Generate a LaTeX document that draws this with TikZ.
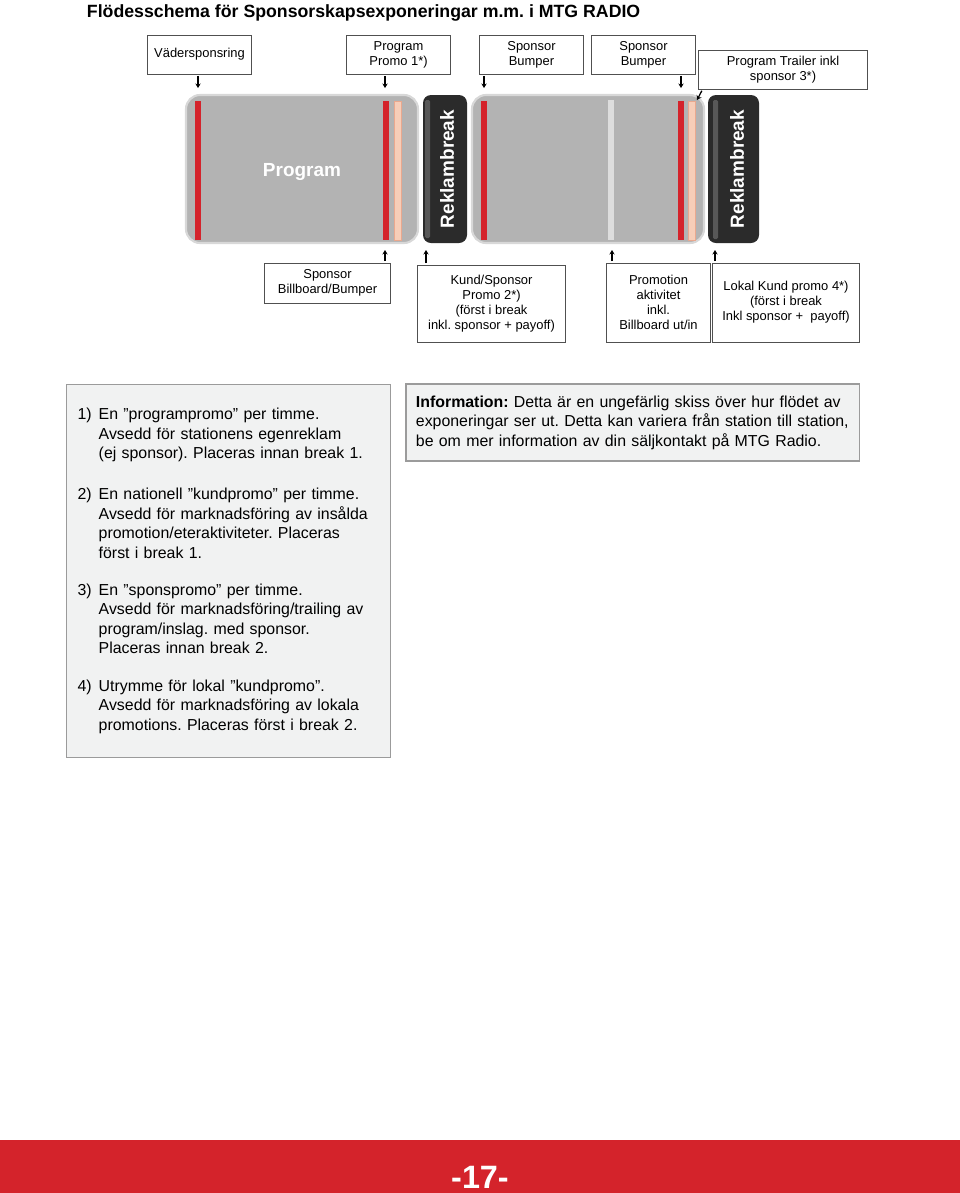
\documentclass[tikz,border=0pt]{standalone}
\usepackage{fontspec}
\setmainfont{Liberation Sans}
\usetikzlibrary{arrows.meta}
\frenchspacing
\definecolor{mtgred}{HTML}{D4232B}
\definecolor{progfill}{HTML}{B3B3B3}
\definecolor{progedge}{HTML}{D8D8D8}
\definecolor{breakfill}{HTML}{2B2B2B}
\definecolor{breakline}{HTML}{585858}
\definecolor{pinkfill}{HTML}{F6CDB8}
\definecolor{pinkedge}{HTML}{E9A88E}
\definecolor{lightbar}{HTML}{DDDDDD}
\definecolor{boxedge}{HTML}{505050}
\definecolor{notefill}{HTML}{F1F2F2}
\definecolor{noteedge}{HTML}{9B9B9B}
\newcommand{\boxfont}{\fontsize{9.2}{10.7}\selectfont}
\newcommand{\notefont}{\fontsize{11.3}{13.9}\selectfont\hyphenpenalty=10000}
\begin{document}
\begin{tikzpicture}[x=0.025cm,y=-0.025cm,
    infobox/.style={draw=boxedge,fill=white,line width=0.7pt,align=center,font=\boxfont,inner sep=1pt},
    notebox/.style={draw=noteedge,fill=notefill,line width=0.8pt,align=left,font=\notefont,inner xsep=0.275cm},
    prog/.style={fill=progfill,draw=progedge,line width=1.5pt,rounded corners=0.35cm},
    reklam/.style={fill=breakfill,rounded corners=0.2cm},
    blocktext/.style={text=white,font=\bfseries\fontsize{13.5}{16}\selectfont},
    pil/.style={-{Stealth[length=3.2pt,width=3.8pt]},line width=0.9pt,shorten <=1pt}]
    \useasboundingbox (0,0) rectangle (960,1193);
    \node[anchor=base west,font=\bfseries\fontsize{12.6}{15}\selectfont] (titel) at (82,17) {Flödesschema för Sponsorskapsexponeringar m.m. i MTG RADIO};

    \node[infobox,minimum width=2.575cm,minimum height=0.975cm] (vader) at (199.5,54.5) {Vädersponsring};
    \node[infobox,minimum width=2.575cm,minimum height=0.975cm] (promo1) at (398.5,54.5) {Program\\Promo 1*)};
    \node[infobox,minimum width=2.575cm,minimum height=0.975cm] (bump1) at (531.5,54.5) {Sponsor\\Bumper};
    \node[infobox,minimum width=2.575cm,minimum height=0.975cm] (bump2) at (643.5,54.5) {Sponsor\\Bumper};
    \node[infobox,minimum width=4.2cm,minimum height=0.975cm] (trailer) at (783,69.5) {Program Trailer inkl\\sponsor 3*)};

    \draw[prog] (186,95) rectangle (418,243);
    \fill[mtgred] (195,101) rectangle (201,240);
    \fill[mtgred] (383,101) rectangle (389,240);
    \filldraw[fill=pinkfill,draw=pinkedge,line width=0.5pt] (394,101) rectangle (401,240);
    \node[blocktext] (prog1) at (302,172) {Program};
    \fill[reklam] (423,95) rectangle (467,243);
    \fill[breakline,rounded corners=1pt] (425,100) rectangle (430,238);
    \node[blocktext,rotate=90] (break1) at (447,169) {Reklambreak};

    \draw[prog] (472,95) rectangle (704,243);
    \fill[mtgred] (481,101) rectangle (487,240);
    \fill[lightbar] (608,100) rectangle (614,240);
    \fill[mtgred] (678,101) rectangle (684,240);
    \filldraw[fill=pinkfill,draw=pinkedge,line width=0.5pt] (688,101) rectangle (695,240);
    \fill[reklam] (708,95) rectangle (759,243);
    \fill[breakline,rounded corners=1pt] (713,100) rectangle (718,239);
    \node[blocktext,rotate=90] (break2) at (737,169) {Reklambreak};

    \coordinate (t1) at (198,88);
    \coordinate (t2) at (385,88);
    \coordinate (t3) at (484,88);
    \coordinate (t4) at (681,88);
    \coordinate (t5) at (697,100);
    \draw[pil] (vader.south -| t1) -- (t1);
    \draw[pil] (promo1.south -| t2) -- (t2);
    \draw[pil] (bump1.south -| t3) -- (t3);
    \draw[pil] (bump2.south -| t4) -- (t4);
    \draw[pil] ([xshift=0.1cm]trailer.south west) -- (t5);

    \node[infobox,minimum width=3.125cm,minimum height=1cm] (billb) at (327.5,283) {Sponsor\\Billboard/Bumper};
    \node[infobox,minimum width=3.675cm,minimum height=1.925cm] (kund) at (491.5,303.5) {Kund/Sponsor\\Promo 2*)\\(först i break\\inkl. sponsor + payoff)};
    \node[infobox,minimum width=2.575cm,minimum height=1.975cm] (aktivitet) at (658.5,302.5) {Promotion\\aktivitet\\inkl.\\Billboard ut/in};
    \node[infobox,minimum width=3.65cm,minimum height=1.975cm] (lokal) at (786,302.5) {Lokal Kund promo 4*)\\(först i break\\Inkl sponsor +\ \ payoff)};

    \coordinate (b1) at (385,250);
    \coordinate (b2) at (426,250);
    \coordinate (b3) at (612,250);
    \coordinate (b4) at (715,250);
    \draw[pil] (billb.north -| b1) -- (b1);
    \draw[pil] (kund.north -| b2) -- (b2);
    \draw[pil] (aktivitet.north -| b3) -- (b3);
    \draw[pil] (lokal.north -| b4) -- (b4);

    \node[notebox,anchor=north west,minimum width=8.1cm,minimum height=9.325cm,text width=7.55cm] (fotnoter) at (66,384) {%
      \begin{tabular}{@{}l@{\hspace{5pt}}l@{}}
      1) & En ”programpromo” per timme.\\
         & Avsedd för stationens egenreklam\\
         & (ej sponsor). Placeras innan break 1.\\[15pt]
      2) & En nationell ”kundpromo” per timme.\\
         & Avsedd för marknadsföring av insålda\\
         & promotion/eteraktiviteter. Placeras\\
         & först i break 1.\\[12.5pt]
      3) & En ”sponspromo” per timme.\\
         & Avsedd för marknadsföring/trailing av\\
         & program/inslag. med sponsor.\\
         & Placeras innan break 2.\\[12.5pt]
      4) & Utrymme för lokal ”kundpromo”.\\
         & Avsedd för marknadsföring av lokala\\
         & promotions. Placeras först i break 2.
      \end{tabular}};
    \node[notebox,minimum height=1.925cm,inner xsep=0.25cm,text width=10.825cm] (info) at (632.5,422.5) {\textbf{Information:} Detta är en ungefärlig skiss över hur flödet av\\exponeringar ser ut. Detta kan variera från station till station,\\be om mer information av din säljkontakt på MTG Radio.};

    \fill[mtgred] (0,1140) rectangle (960,1193);
    \node[anchor=base,inner sep=0pt,text=white,font=\bfseries\fontsize{23}{26}\selectfont] (sida) at (480,1188) {-17-};
\end{tikzpicture}
\end{document}
